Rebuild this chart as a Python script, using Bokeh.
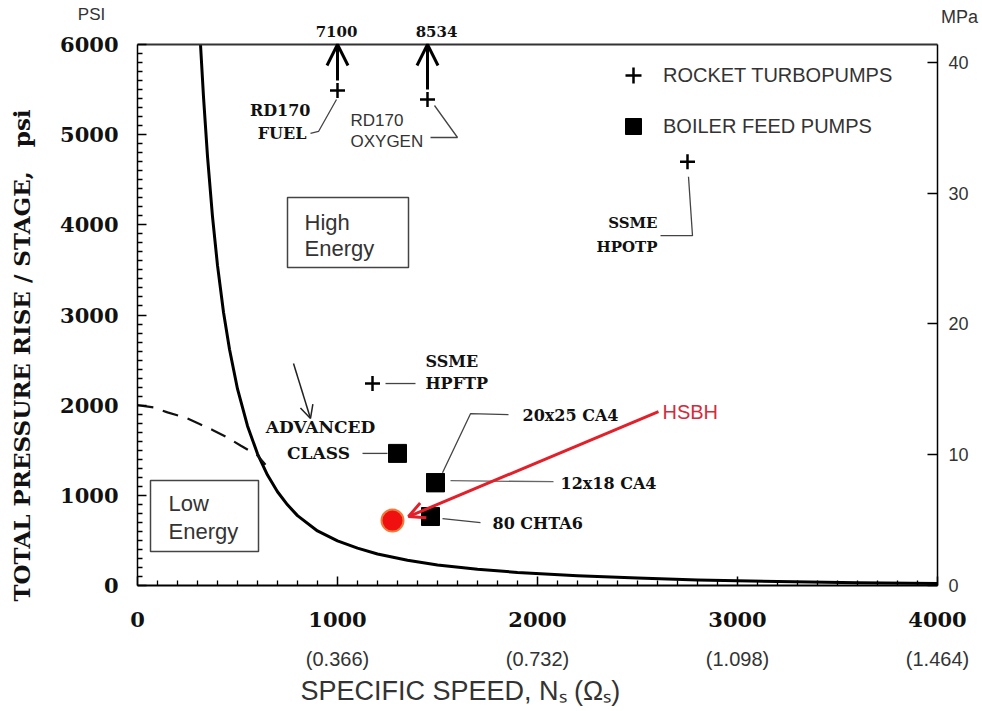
import numpy as np
from bokeh.plotting import figure
from bokeh.models import (Range1d, LinearAxis, FixedTicker, Label, Arrow, OpenHead,
                          BoxAnnotation, Legend, LegendItem)
from bokeh.embed import file_html
from bokeh.resources import INLINE

# ---------------- data ----------------
# solid boundary curve (high / low energy limit)
curve_ns = [315, 330, 350, 375, 400, 430, 460, 500, 550, 600, 650, 700, 750, 800,
            900, 1000, 1100, 1200, 1350, 1500, 1700, 1900, 2200, 2500, 2800, 3200,
            3600, 4000]
curve_psi = [6000, 5420, 4760, 4090, 3550, 3030, 2620, 2180, 1770, 1460, 1225, 1040,
             895, 775, 605, 495, 415, 350, 280, 228, 180, 145, 108, 82, 62, 44, 31, 22]

# dashed "advanced class" limit
dash_ns = [0, 80, 150, 240, 305, 380, 450, 515, 600, 640]
dash_psi = [2000, 1975, 1920, 1862, 1797, 1720, 1640, 1553, 1442, 1340]

# rocket turbopumps
rocket_names = ["RD170 FUEL", "RD170 OXYGEN", "SSME HPOTP", "SSME HPFTP"]
rocket_ns = [1000, 1450, 2750, 1175]
rocket_psi = [5490, 5390, 4700, 2240]
rd170_actual_psi = ["7100", "8534"]          # true values, above the scale

# boiler feed pumps
boiler_names = ["ADVANCED CLASS", "20x25 CA4", "12x18 CA4", "80 CHTA6"]
boiler_ns = [1300, 1490, 1490, 1465]
boiler_psi = [1465, 1140, 1140, 765]

# HSBH design point
hsbh_ns = [1275]
hsbh_psi = [720]

# axes
psi_ticks = [0, 1000, 2000, 3000, 4000, 5000, 6000]
ns_ticks = [0, 1000, 2000, 3000, 4000]
omega_labels = ["(0.366)", "(0.732)", "(1.098)", "(1.464)"]   # for Ns = 1000..4000
mpa_ticks = [0, 10, 20, 30, 40]
PSI_PER_MPA = 145.038

# ---------------- figure ----------------
W, H = 982, 711
BL, BR, BT, BB = 137, 45, 44, 126          # margins around the plotting box
X_MAX, Y_MAX = 4000, 6000
UX = X_MAX / (W - BL - BR)                 # data units per screen pixel
UY = Y_MAX / (H - BT - BB)

# the frame spans the whole canvas; axes sit at fixed data locations so that
# titles and unit labels in the margins are ordinary in-frame annotations
x_range = Range1d(-BL * UX, X_MAX + BR * UX)
y_range = Range1d(-BB * UY, Y_MAX + BT * UY)

p = figure(width=W, height=H, x_range=x_range, y_range=y_range,
           output_backend="svg", toolbar_location=None, min_border=0)
p.xgrid.visible = False
p.ygrid.visible = False
p.outline_line_color = None
p.background_fill_color = "white"
p.border_fill_color = "white"

SERIF = "DejaVu Serif"
SANS = "Liberation Sans"


def shift(x, y, dx=0.0, dy=0.0):
    """Move a data point by dx, dy screen pixels (dy grows downward)."""
    return x + dx * UX, y - dy * UY


def add_text(x, y, text, font=SERIF, size=16, style="bold", color="#111111",
             align="left", angle=0.0):
    p.add_layout(Label(x=x, y=y, text=text, text_font=font, text_font_size=f"{size}px",
                       text_font_style=style, text_color=color, text_align=align,
                       text_baseline="middle", angle=angle))


def minor(step, stop, majors):
    return [v for v in range(0, stop + 1, step) if v not in majors]


# bottom axis
ax = p.xaxis[0]
ax.fixed_location = 0
ax.bounds = (0, X_MAX)
ax.ticker = FixedTicker(ticks=ns_ticks, minor_ticks=minor(100, X_MAX, ns_ticks))
ax.major_tick_in, ax.major_tick_out = 9, 0
ax.minor_tick_in, ax.minor_tick_out = 5, 0
ax.major_tick_line_width = 1.5
ax.minor_tick_line_width = 1.3
ax.axis_line_width = 2
ax.major_label_text_font = SERIF
ax.major_label_text_font_style = "bold"
ax.major_label_text_font_size = "21px"
ax.major_label_text_color = "#111111"
ax.major_label_standoff = 26

# left axis
ay = p.yaxis[0]
ay.fixed_location = 0
ay.bounds = (0, Y_MAX)
ay.ticker = FixedTicker(ticks=psi_ticks, minor_ticks=minor(100, Y_MAX, psi_ticks))
ay.major_tick_in, ay.major_tick_out = 9, 0
ay.minor_tick_in, ay.minor_tick_out = 5, 0
ay.major_tick_line_width = 1.5
ay.minor_tick_line_width = 1.3
ay.axis_line_width = 1.5
ay.major_label_text_font = SERIF
ay.major_label_text_font_style = "bold"
ay.major_label_text_font_size = "21px"
ay.major_label_text_color = "#111111"
ay.major_label_standoff = 19

# right axis in MPa
p.extra_y_ranges = {"mpa": Range1d(y_range.start / PSI_PER_MPA, y_range.end / PSI_PER_MPA)}
ar = LinearAxis(y_range_name="mpa", fixed_location=X_MAX,
                bounds=(0, Y_MAX / PSI_PER_MPA),
                ticker=FixedTicker(ticks=mpa_ticks, minor_ticks=[]),
                major_tick_in=10, major_tick_out=0, minor_tick_in=0, minor_tick_out=0,
                major_tick_line_width=1.5,
                axis_line_width=1.5, major_label_standoff=11,
                major_label_text_font=SANS, major_label_text_font_size="18px",
                major_label_text_color="#333333")
p.add_layout(ar, "right")

# top border of the plotting box
at = LinearAxis(fixed_location=Y_MAX, bounds=(0, X_MAX),
                ticker=FixedTicker(ticks=[], minor_ticks=[]),
                major_tick_in=0, major_tick_out=0, minor_tick_in=0, minor_tick_out=0,
                major_label_text_alpha=0, axis_line_width=2, axis_line_color="#333333")
p.add_layout(at, "above")

# secondary Omega_s labels under the Ns ticks
for ns, lab in zip(ns_ticks[1:], omega_labels):
    add_text(ns, -73 * UY, lab, font=SANS, size=20, style="normal", color="#333333",
             align="center")

# axis titles and units
add_text(-580, 2551, "TOTAL PRESSURE RISE / STAGE,\u00a0\u00a0\u00a0psi", size=23,
         align="center", angle=np.pi / 2)
add_text(815, -105 * UY, "SPECIFIC SPEED, N\u209b (\u03a9\u209b)", font=SANS, size=27,
         style="normal", color="#333333")
add_text(-230, Y_MAX + 30 * UY, "PSI", font=SANS, size=17, style="normal",
         color="#333333", align="center")
add_text(X_MAX + 22 * UX, Y_MAX + 28 * UY, "MPa", font=SANS, size=18, style="normal",
         color="#333333", align="center")

# region boxes
for left, right, top, bottom in [(750, 1355, 4303, 3527), (65, 605, 1164, 377)]:
    p.add_layout(BoxAnnotation(left=left, right=right, top=top, bottom=bottom,
                               fill_alpha=0, line_color="#444444", line_alpha=1,
                               line_width=1.5))
add_text(835, 4026, "High", font=SANS, size=22, style="normal", color="#333333")
add_text(835, 3737, "Energy", font=SANS, size=22, style="normal", color="#333333")
add_text(155, 909, "Low", font=SANS, size=22, style="normal", color="#333333")
add_text(155, 599, "Energy", font=SANS, size=22, style="normal", color="#333333")

# curves
p.line(curve_ns, curve_psi, line_width=3, color="black", line_join="round")
p.line(dash_ns, dash_psi, line_width=2.2, color="#111111", line_dash="16 10")


# leader lines (pixel offsets from each point)
def leader(x, y, offsets, color="#444444"):
    pts = [shift(x, y, dx, dy) for dx, dy in offsets]
    p.line([q[0] for q in pts], [q[1] for q in pts], color=color, line_width=1.3)


leader(rocket_ns[0], rocket_psi[0], [(-27, 43), (-19, 41), (-1, 9)])
leader(rocket_ns[1], rocket_psi[1], [(7, 6), (30, 38), (3, 38)])
leader(rocket_ns[2], rocket_psi[2], [(1, 15), (5, 74), (-27, 74)])
leader(rocket_ns[3], rocket_psi[3], [(13, 0), (43, 0)])
leader(boiler_ns[0], boiler_psi[0], [(-35, 0), (-10, 0)])
leader(boiler_ns[1], boiler_psi[1], [(7, -10), (35, -69), (73, -68)])
leader(boiler_ns[2], boiler_psi[2], [(15, -2), (118, -1)], color="#666666")
leader(boiler_ns[3], boiler_psi[3], [(12, 2), (50, 6)])

# markers
r_rocket = p.scatter(rocket_ns, rocket_psi, marker="cross", size=15, line_width=2.5,
                     color="black")
r_boiler = p.scatter(boiler_ns, boiler_psi, marker="square", size=18, color="black")
p.scatter(hsbh_ns, hsbh_psi, marker="circle", size=22, fill_color="#f01010",
          line_color="#f07a3a", line_width=2)

# off-scale arrows for the RD170 pumps
for i, (val, dx) in enumerate(zip(rd170_actual_psi, [-1, 9])):
    xs, ys = shift(rocket_ns[i], rocket_psi[i], 0, -10)
    p.add_layout(Arrow(end=OpenHead(size=21, line_width=3, line_color="black"),
                       x_start=xs, y_start=ys, x_end=rocket_ns[i], y_end=Y_MAX,
                       line_width=3, line_color="black"))
    tx, ty = shift(rocket_ns[i], Y_MAX, dx, -13)
    add_text(tx, ty, val, size=15, align="center")

# rocket labels
x, y = rocket_ns[0], rocket_psi[0]
add_text(*shift(x, y, -27, 20), "RD170", align="right")
add_text(*shift(x, y, -31, 43), "FUEL", align="right")
x, y = rocket_ns[1], rocket_psi[1]
add_text(*shift(x, y, -77, 21), "RD170", font=SANS, size=17, style="normal", color="#333333")
add_text(*shift(x, y, -77, 42), "OXYGEN", font=SANS, size=17, style="normal", color="#333333")
x, y = rocket_ns[2], rocket_psi[2]
add_text(*shift(x, y, -30, 61), "SSME", size=15, align="right")
add_text(*shift(x, y, -30, 85), "HPOTP", size=15, align="right")
x, y = rocket_ns[3], rocket_psi[3]
add_text(*shift(x, y, 53, -22), "SSME")
add_text(*shift(x, y, 53, 0), "HPFTP")

# boiler feed pump labels
x, y = boiler_ns[0], boiler_psi[0]
add_text(*shift(x, y, -77, -26), "ADVANCED", size=17, align="center")
add_text(*shift(x, y, -79, 0), "CLASS", size=17, align="center")
ax0, ay0 = shift(x, y, -104, -90)
ax1, ay1 = shift(x, y, -87, -35)
p.add_layout(Arrow(end=OpenHead(size=13, line_width=1.5, line_color="#222222"),
                   x_start=ax0, y_start=ay0, x_end=ax1, y_end=ay1,
                   line_width=1.5, line_color="#222222"))
add_text(*shift(boiler_ns[1], boiler_psi[1], 87, -67), boiler_names[1])
add_text(*shift(boiler_ns[2], boiler_psi[2], 125, 1), boiler_names[2])
add_text(*shift(boiler_ns[3], boiler_psi[3], 62, 7), boiler_names[3])

# HSBH callout
RED = "#e3202a"
hx0, hy0 = shift(hsbh_ns[0], hsbh_psi[0], 266, -109)
hx1, hy1 = shift(hsbh_ns[0], hsbh_psi[0], 16, -4)
p.add_layout(Arrow(end=OpenHead(size=16, line_width=3, line_color=RED),
                   x_start=hx0, y_start=hy0, x_end=hx1, y_end=hy1,
                   line_width=3, line_color=RED))
add_text(*shift(hsbh_ns[0], hsbh_psi[0], 270, -109), "HSBH", font=SANS, size=20,
         style="normal", color="#d42b3c")

# legend
legend = Legend(items=[LegendItem(label="ROCKET TURBOPUMPS", renderers=[r_rocket]),
                       LegendItem(label="BOILER FEED PUMPS", renderers=[r_boiler])],
                location=(BL + 476, BB + 439), glyph_width=40, glyph_height=40, spacing=11,
                label_standoff=10, padding=0, margin=0, border_line_alpha=0,
                background_fill_alpha=0, label_text_font=SANS,
                label_text_font_size="20px", label_text_color="#333333")
p.add_layout(legend)

open("out.html", "w").write(file_html(p, INLINE))
